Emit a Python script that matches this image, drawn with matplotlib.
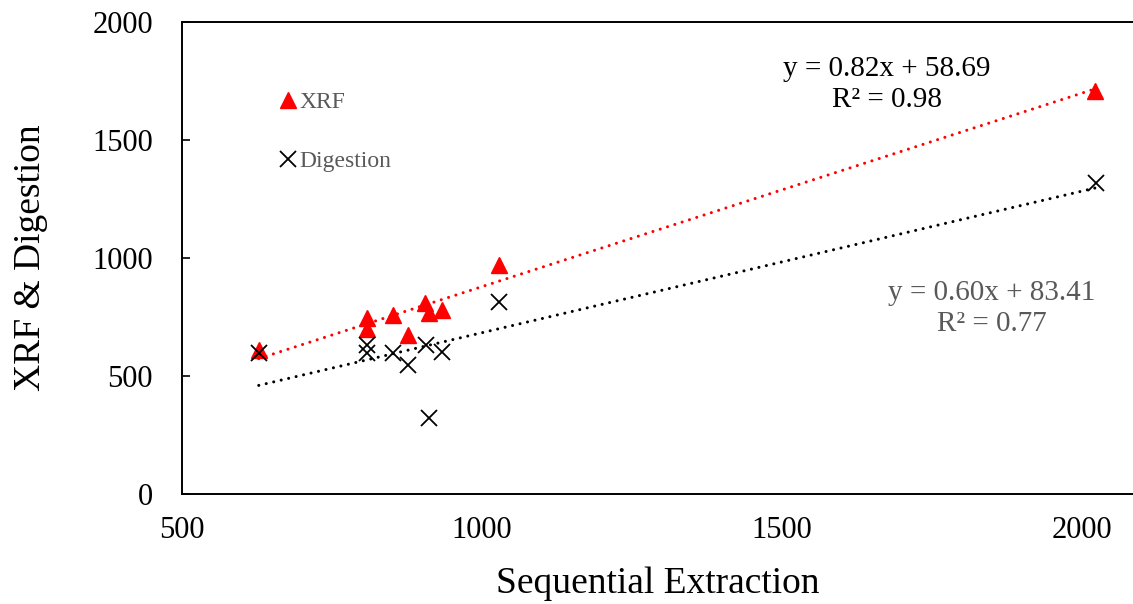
import matplotlib
matplotlib.use("Agg")
import matplotlib.pyplot as plt
from matplotlib.lines import Line2D
import numpy as np

# values
seq_x = [628, 808, 808, 852, 877, 905, 912, 933, 1028, 2022]
xrf_y = [610, 746, 700, 758, 674, 809, 767, 780, 970, 1707]
dig_x = [628, 808, 808, 852, 877, 907, 912, 933, 1028, 2023]
dig_y = [597, 631, 597, 597, 547, 631, 322, 602, 813, 1318]

# trendline coefficients as printed on the chart
xrf_fit = (0.82, 58.69)
dig_fit = (0.60, 83.41)

yticks = [0, 500, 1000, 1500, 2000]
xticks = [500, 1000, 1500, 2000]

plt.rcParams['font.family'] = ['Liberation Serif', 'DejaVu Serif']

fig = plt.figure(figsize=(11.33, 6.04), dpi=100)
ax = fig.add_axes([0.1606, 0.1821, 0.8394, 0.7815])

dot = (0, (0.01, 2.5))
xs = np.array([min(seq_x), max(seq_x)])
ax.plot(xs, xrf_fit[0] * xs + xrf_fit[1], color='#ff0000', lw=2.2,
        linestyle=dot, dash_capstyle='round', zorder=2)
xd = np.array([min(dig_x), max(dig_x)])
ax.plot(xd, dig_fit[0] * xd + dig_fit[1], color='black', lw=2.2,
        linestyle=dot, dash_capstyle='round', zorder=2)

ax.plot(seq_x, xrf_y, linestyle='none', marker='^', markersize=12,
        color='#ff0000', zorder=3)
ax.plot(dig_x, dig_y, linestyle='none', marker='x', markersize=12,
        markeredgewidth=1.3, color='black', zorder=4)

ax.set_xlim(500, 2085)
ax.set_ylim(0, 2000)
ax.set_xticks(xticks)
ax.set_yticks(yticks)
ax.tick_params(axis='y', direction='in', length=6, width=1.2, pad=21, labelsize=22)
ax.tick_params(axis='x', length=0, pad=16, labelsize=22)
for s in ['left', 'bottom', 'top']:
    ax.spines[s].set_linewidth(1.4)
ax.spines['right'].set_visible(False)

ax.set_xlabel('Sequential Extraction', fontsize=27, labelpad=15)
ax.set_ylabel('XRF & Digestion', fontsize=27, labelpad=32)

ax.text(1675, 1737, 'y = 0.82x + 58.69\nR² = 0.98', fontsize=21,
        ha='center', va='center', color='black', linespacing=1.25)
ax.text(1850, 788, 'y = 0.60x + 83.41\nR² = 0.77', fontsize=21,
        ha='center', va='center', color='#595959', linespacing=1.25)

handles = [
    Line2D([], [], linestyle='none', marker='^', markersize=12, color='#ff0000'),
    Line2D([], [], linestyle='none', marker='x', markersize=12,
           markeredgewidth=1.3, color='black'),
]
leg = ax.legend(handles, ['XRF', 'Digestion'], loc='upper left',
                bbox_to_anchor=(0.0816, 0.898), frameon=False, fontsize=17,
                handlelength=0.6, handletextpad=0.2, labelspacing=1.6)
for t in leg.get_texts():
    t.set_color('#595959')

fig.savefig('out.png', dpi=100)
